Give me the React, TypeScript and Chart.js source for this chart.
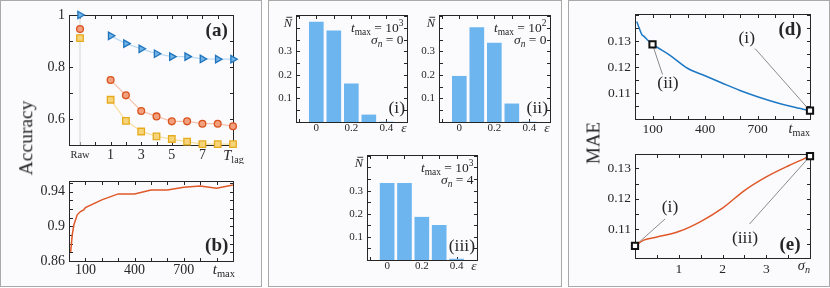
import React, { useEffect, useRef } from 'react';
import { Chart, registerables } from 'chart.js';

Chart.register(...registerables);

const FONT = '"Liberation Serif", "Times New Roman", serif';
const INK = '#262626';
const BLUE = '#1c78c4';
const ORANGE = '#df5726';
const BAR = '#6db5ee';

// ---------- (a) accuracy vs lag ----------
const RAW_POS = -1;
const LAG_STEPS = [1, 2, 3, 4, 5, 6, 7, 8, 9];
const ACC_TRIANGLE = [0.92, 0.89, 0.87, 0.851, 0.84, 0.84, 0.831, 0.83, 0.83];
const ACC_CIRCLE = [0.75, 0.691, 0.631, 0.61, 0.591, 0.591, 0.582, 0.582, 0.572];
const ACC_SQUARE = [0.674, 0.593, 0.552, 0.533, 0.523, 0.513, 0.503, 0.503, 0.503];
const ACC_RAW = [1.0, 0.946, 0.911];
const LAG_TICKS = [-1, 1, 3, 5, 7];
const LAG_TICK_LABELS = ['Raw', '1', '3', '5', '7'];
const ACC_A_TICKS = [0.6, 0.8, 1];
const ACC_A_TICK_LABELS = ['0.6', '0.8', '1'];

// ---------- (b) accuracy vs t_max ----------
const TMAX_B = [10, 20, 30, 50, 70, 90, 100, 200, 300, 400, 500, 600, 700, 800, 900, 1000];
const ACC_B = [0.8706, 0.8905, 0.902, 0.9134, 0.9172, 0.9192, 0.9218, 0.9307, 0.9376, 0.9376, 0.9422, 0.9422, 0.9453, 0.9468, 0.9441, 0.9479];
const TMAX_TICKS = [100, 400, 700];
const TMAX_TICK_LABELS = ['100', '400', '700'];
const ACC_B_TICKS = [0.86, 0.9, 0.94];
const ACC_B_TICK_LABELS = ['0.86', '0.9', '0.94'];

// ---------- (c) error histograms ----------
const EPS_BINS = [0, 0.1, 0.2, 0.3, 0.4];
const NBAR_I = [0.424, 0.387, 0.162, 0.03, 0];
const NBAR_II = [0.194, 0.401, 0.335, 0.077, 0];
const NBAR_III = [0.332, 0.332, 0.185, 0.15, 0.004];
const HIST_TMAX_EXP = ['3', '2', '3'];
const HIST_SIGMA = ['0', '0', '4'];
const EPS_TICKS = [0, 0.2, 0.4];
const EPS_TICK_LABELS = ['0', '0.2', '0.4'];
const NBAR_TICKS = [0.1, 0.2, 0.3];
const NBAR_TICK_LABELS = ['0.1', '0.2', '0.3'];

// ---------- (d) MAE vs t_max ----------
const TMAX_D = [10, 20, 30, 40, 50, 70, 100, 200, 300, 400, 500, 600, 700, 800, 900, 1000];
const MAE_D = [0.1376, 0.1358, 0.134, 0.1325, 0.132, 0.1306, 0.1289, 0.1246, 0.1196, 0.1167, 0.1138, 0.111, 0.1086, 0.1065, 0.1047, 0.1032];
const MARK_D_TMAX = [100, 1000];
const MARK_D_MAE = [0.1288, 0.1032];

// ---------- (e) MAE vs sigma_n ----------
const SIGMA = [0, 0.2, 0.5, 1, 1.5, 2, 2.5, 3, 3.5, 4];
const MAE_E = [0.1045, 0.1064, 0.1074, 0.1092, 0.1125, 0.1169, 0.1227, 0.1272, 0.1308, 0.134];
const MARK_E_SIGMA = [0, 4];
const MARK_E_MAE = [0.1045, 0.134];
const MAE_TICKS = [0.11, 0.12, 0.13];
const MAE_TICK_LABELS = ['0.11', '0.12', '0.13'];
const SIGMA_TICKS = [1, 2, 3];
const SIGMA_TICK_LABELS = ['1', '2', '3'];

// ---------- helpers ----------
type Box = { left: number; top: number; width: number; height: number };
type Area = { l: number; t: number; r: number; b: number };
type Part = { t: string; s: number; i?: boolean; b?: boolean; dy?: number; bar?: boolean };
type TextItem = { x: number; y: number; parts: Part[]; align?: 'left' | 'center' | 'right' };
type Leader = { at: [number, number]; to: [number, number] };
type Overlay = { xMinor: number[]; yMinor: number[]; texts: TextItem[]; leaders?: Leader[] };

const steps = (a: number, b: number, s: number) => {
  const out: number[] = [];
  for (let k = 0; a + k * s <= b + 1e-9; k++) out.push(+(a + k * s).toFixed(6));
  return out;
};

const it = (t: string, s: number, dy = 0): Part => ({ t, s, i: true, dy });
const rm = (t: string, s: number, dy = 0): Part => ({ t, s, dy });
const bold = (t: string, s: number): Part => ({ t, s, b: true });
const subI = (base: string, sub: string, s: number, italicSub = false): Part[] => [
  it(base, s),
  { t: sub, s: s * 0.7, i: italicSub, dy: s * 0.24 },
];
const tmaxEq = (exp: string, s: number): Part[] => [
  ...subI('t', 'max', s),
  rm(' = 10', s),
  rm(exp, s * 0.7, -s * 0.42),
];
const sigmaEq = (v: string, s: number): Part[] => [...subI('σ', 'n', s, true), rm(' = ' + v, s)];
const nbar = (s: number): Part[] => [{ t: 'N', s, i: true, bar: true }];

function fontOf(p: Part) {
  return `${p.i ? 'italic ' : ''}${p.b ? 'bold ' : ''}${p.s}px ${FONT}`;
}

function drawRich(ctx: CanvasRenderingContext2D, item: TextItem, ox: number, oy: number) {
  const ws: number[] = [];
  let w = 0;
  for (const p of item.parts) {
    ctx.font = fontOf(p);
    const m = ctx.measureText(p.t).width;
    ws.push(m);
    w += m;
  }
  const align = item.align || 'center';
  let x = item.x - ox - (align === 'right' ? w : align === 'left' ? 0 : w / 2);
  const y = item.y - oy;
  ctx.fillStyle = INK;
  ctx.textAlign = 'left';
  ctx.textBaseline = 'alphabetic';
  item.parts.forEach((p, k) => {
    ctx.font = fontOf(p);
    ctx.fillText(p.t, x, y + (p.dy || 0));
    if (p.bar) ctx.fillRect(x + ws[k] * 0.3, y - p.s * 0.84, ws[k] * 0.7, Math.max(0.9, p.s * 0.06));
    x += ws[k];
  });
}

function overlay(box: Box, ov: Overlay) {
  return {
    id: 'overlay',
    beforeDatasetsDraw(chart: any) {
      const { ctx, chartArea: a, scales } = chart;
      const L = Math.round(a.left) + 0.5;
      const R = Math.round(a.right) + 0.5;
      const T = Math.round(a.top) + 0.5;
      const B = Math.round(a.bottom) + 0.5;
      const len = 3.5;
      ctx.save();
      ctx.strokeStyle = INK;
      ctx.lineWidth = 1;
      ctx.strokeRect(L, T, R - L, B - T);
      ctx.beginPath();
      for (const v of ov.xMinor) {
        const p = Math.round(scales.x.getPixelForValue(v)) + 0.5;
        ctx.moveTo(p, B); ctx.lineTo(p, B - len);
        ctx.moveTo(p, T); ctx.lineTo(p, T + len);
      }
      for (const v of ov.yMinor) {
        const p = Math.round(scales.y.getPixelForValue(v)) + 0.5;
        ctx.moveTo(L, p); ctx.lineTo(L + len, p);
        ctx.moveTo(R, p); ctx.lineTo(R - len, p);
      }
      ctx.stroke();
      if (ov.leaders) {
        ctx.strokeStyle = '#6e6e6e';
        ctx.lineWidth = 0.8;
        for (const ld of ov.leaders) {
          ctx.beginPath();
          ctx.moveTo(scales.x.getPixelForValue(ld.at[0]), scales.y.getPixelForValue(ld.at[1]));
          ctx.lineTo(ld.to[0] - box.left, ld.to[1] - box.top);
          ctx.stroke();
        }
      }
      ctx.restore();
    },
    afterDraw(chart: any) {
      const ctx = chart.ctx;
      ctx.save();
      for (const t of ov.texts) drawRich(ctx, t, box.left, box.top);
      ctx.restore();
    },
  };
}

function axis(min: number, max: number, ticks: number[], labels: string[], size: number | ((c: any) => any), padding: number) {
  return {
    type: 'linear',
    min,
    max,
    offset: false,
    grid: { display: false, drawTicks: false },
    border: { display: false },
    afterBuildTicks: (s: any) => {
      s.ticks = ticks.map((v) => ({ value: v }));
    },
    ticks: {
      autoSkip: false,
      maxRotation: 0,
      minRotation: 0,
      padding,
      color: INK,
      font: typeof size === 'function' ? size : { family: FONT, size },
      callback: (v: number) => {
        const i = ticks.indexOf(v);
        return i >= 0 ? labels[i] : '';
      },
    },
  };
}

type Spec = { box: Box; area: Area; type: string; datasets: any[]; x: any; y: any; ov: Overlay };

function buildConfig(spec: Spec): any {
  const { box, area } = spec;
  return {
    type: spec.type,
    data: { datasets: spec.datasets },
    options: {
      responsive: false,
      maintainAspectRatio: false,
      animation: false,
      events: [],
      layout: { padding: { left: 0, bottom: 0, top: area.t - box.top, right: box.left + box.width - area.r } },
      plugins: { legend: { display: false }, tooltip: { enabled: false }, title: { display: false } },
      scales: {
        x: { ...spec.x, afterFit: (s: any) => { s.height = box.top + box.height - area.b; } },
        y: { ...spec.y, afterFit: (s: any) => { s.width = area.l - box.left; } },
      },
    },
    plugins: [overlay(box, spec.ov)],
  };
}

const pts = (xs: number[], ys: number[]) => xs.map((x, i) => ({ x, y: ys[i] }));

const TRI = { pointStyle: 'triangle', pointRotation: 90, pointRadius: 4.3, pointBorderWidth: 1.3, pointBorderColor: '#1f74bd', pointBackgroundColor: '#6fb3e6' };
const CIR = { pointStyle: 'circle', pointRadius: 3.4, pointBorderWidth: 1.3, pointBorderColor: '#d9531e', pointBackgroundColor: '#f2a07e' };
const SQR = { pointStyle: 'rect', pointRadius: 4.6, pointBorderWidth: 1.3, pointBorderColor: '#e5ab1f', pointBackgroundColor: '#f7d47a' };
const MARK = { pointStyle: 'rect', pointRadius: 4.4, pointBorderWidth: 2, pointBorderColor: '#111', pointBackgroundColor: '#fff', showLine: false, clip: false };

const A_Y = [0.5, 1];

const SPEC_A: Spec = {
  type: 'line',
  box: { left: 30, top: 2, width: 228, height: 162 },
  area: { l: 69, t: 15, r: 233, b: 145 },
  datasets: [
    { data: pts(LAG_STEPS, ACC_TRIANGLE), borderColor: '#bcdaf2', borderWidth: 1.3, ...TRI, clip: false },
    { data: pts(LAG_STEPS, ACC_CIRCLE), borderColor: '#f5c4ae', borderWidth: 1.3, ...CIR, clip: false },
    { data: pts(LAG_STEPS, ACC_SQUARE), borderColor: '#f7e0a2', borderWidth: 1.3, ...SQR, clip: false },
    { data: [{ x: RAW_POS, y: ACC_RAW[0] }], showLine: false, ...TRI, clip: false },
    { data: [{ x: RAW_POS, y: ACC_RAW[1] }], showLine: false, ...CIR, clip: false },
    { data: [{ x: RAW_POS, y: ACC_RAW[2] }], showLine: false, ...SQR, clip: false },
    { data: [{ x: RAW_POS, y: A_Y[0] }, { x: RAW_POS, y: A_Y[1] }], borderColor: '#dcdcdc', borderWidth: 1.2, pointRadius: 0 },
  ],
  x: axis(-1.72, 9, LAG_TICKS, LAG_TICK_LABELS, (c: any) =>
    c.tick && c.tick.value === RAW_POS ? { family: FONT, size: 10.5, lineHeight: 1.55 } : { family: FONT, size: 14 }, 2),
  y: axis(A_Y[0], A_Y[1], ACC_A_TICKS, ACC_A_TICK_LABELS, 14, 4),
  ov: {
    xMinor: steps(-1, 8, 1),
    yMinor: steps(0.6, 0.9, 0.1),
    texts: [
      { x: 216.7, y: 36, parts: [bold('(a)', 19)] },
      { x: 233.5, y: 159.5, parts: subI('T', 'lag', 14.5) },
    ],
  },
};

const SPEC_B: Spec = {
  type: 'line',
  box: { left: 30, top: 168, width: 228, height: 116 },
  area: { l: 69, t: 181, r: 233, b: 261 },
  datasets: [{ data: pts(TMAX_B, ACC_B), borderColor: ORANGE, borderWidth: 1.5, pointRadius: 0, tension: 0 }],
  x: axis(0, 1000, TMAX_TICKS, TMAX_TICK_LABELS, 14, 1),
  y: axis(0.86, 0.9525, ACC_B_TICKS, ACC_B_TICK_LABELS, 14, 4),
  ov: {
    xMinor: steps(100, 900, 100),
    yMinor: steps(0.87, 0.95, 0.01),
    texts: [
      { x: 216.7, y: 250.5, parts: [bold('(b)', 19)] },
      { x: 235, y: 273.5, parts: subI('t', 'max', 15), align: 'right' },
    ],
  },
};

function histSpec(k: number, values: number[], box: Box, area: Area, label: string): Spec {
  const dx = area.l;
  const r = area.r;
  const t = area.t;
  const b = area.b;
  return {
    type: 'bar',
    box,
    area,
    datasets: [{ data: pts(EPS_BINS, values), backgroundColor: BAR, borderWidth: 0, barThickness: 14 }],
    x: axis(-0.116, 0.518, EPS_TICKS, EPS_TICK_LABELS, 11, 0),
    y: axis(0, 0.454, NBAR_TICKS, NBAR_TICK_LABELS, 11, 4),
    ov: {
      xMinor: steps(-0.1, 0.4, 0.1),
      yMinor: steps(0.05, 0.45, 0.05),
      texts: [
        { x: dx - 8, y: t + 12.3, parts: nbar(12.5) },
        { x: r - 3.5, y: t + 16.5, parts: tmaxEq(HIST_TMAX_EXP[k], 13.5), align: 'right' },
        { x: r - 3.5, y: t + 29, parts: sigmaEq(HIST_SIGMA[k], 13.5), align: 'right' },
        { x: r - 2, y: b - 9, parts: [rm(label, 17.5)], align: 'right' },
        { x: r - 3, y: b + 9.8, parts: [it('ε', 13.5)] },
      ],
    },
  };
}

const SPEC_CI = histSpec(0, NBAR_I, { left: 270, top: 3, width: 148, height: 136 }, { l: 296, t: 15, r: 407, b: 122 }, '(i)');
const SPEC_CII = histSpec(1, NBAR_II, { left: 412, top: 3, width: 148, height: 136 }, { l: 439, t: 15, r: 550, b: 122 }, '(ii)');
const SPEC_CIII = histSpec(2, NBAR_III, { left: 340, top: 143, width: 150, height: 136 }, { l: 367, t: 155, r: 477, b: 260 }, '(iii)');
SPEC_CIII.ov.texts.push({ x: 286, y: 272, parts: [bold('(c)', 19)] });

const SPEC_D: Spec = {
  type: 'line',
  box: { left: 598, top: 2, width: 228, height: 136 },
  area: { l: 635, t: 14, r: 810, b: 119 },
  datasets: [
    { data: pts(MARK_D_TMAX, MARK_D_MAE), ...MARK },
    { data: pts(TMAX_D, MAE_D), borderColor: BLUE, borderWidth: 1.5, pointRadius: 0, cubicInterpolationMode: 'monotone' },
  ],
  x: axis(0, 1000, TMAX_TICKS, TMAX_TICK_LABELS, 13.5, 2),
  y: axis(0.1, 0.1405, MAE_TICKS, MAE_TICK_LABELS, 13.5, 4),
  ov: {
    xMinor: steps(100, 900, 100),
    yMinor: steps(0.105, 0.14, 0.005),
    leaders: [
      { at: [MARK_D_TMAX[0], MARK_D_MAE[0]], to: [662.5, 74.5] },
      { at: [MARK_D_TMAX[1], MARK_D_MAE[1]], to: [755, 48.5] },
    ],
    texts: [
      { x: 790, y: 35, parts: [bold('(d)', 19)] },
      { x: 746.7, y: 43, parts: [rm('(i)', 17.5)] },
      { x: 668, y: 87.5, parts: [rm('(ii)', 17.5)] },
      { x: 810, y: 132.5, parts: subI('t', 'max', 14.5), align: 'right' },
    ],
  },
};

const SPEC_E: Spec = {
  type: 'line',
  box: { left: 598, top: 142, width: 228, height: 136 },
  area: { l: 635, t: 154, r: 810, b: 258 },
  datasets: [
    { data: pts(MARK_E_SIGMA, MARK_E_MAE), ...MARK },
    { data: pts(SIGMA, MAE_E), borderColor: ORANGE, borderWidth: 1.5, pointRadius: 0, cubicInterpolationMode: 'monotone' },
  ],
  x: axis(0, 4, SIGMA_TICKS, SIGMA_TICK_LABELS, 13.5, 3),
  y: axis(0.1005, 0.1347, MAE_TICKS, MAE_TICK_LABELS, 13.5, 4),
  ov: {
    xMinor: steps(0.5, 3.5, 0.5),
    yMinor: steps(0.105, 0.13, 0.005),
    leaders: [
      { at: [MARK_E_SIGMA[0], MARK_E_MAE[0]], to: [665, 219] },
      { at: [MARK_E_SIGMA[1], MARK_E_MAE[1]], to: [749.5, 224] },
    ],
    texts: [
      { x: 790, y: 250, parts: [bold('(e)', 19)] },
      { x: 670, y: 211.5, parts: [rm('(i)', 17.5)] },
      { x: 745, y: 243, parts: [rm('(iii)', 17.5)] },
      { x: 810, y: 269.5, parts: subI('σ', 'n', 14.5, true), align: 'right' },
    ],
  },
};

const SPECS = [SPEC_A, SPEC_B, SPEC_CI, SPEC_CII, SPEC_CIII, SPEC_D, SPEC_E];

function ChartCanvas({ spec }: { spec: Spec }) {
  const ref = useRef<HTMLCanvasElement>(null);
  useEffect(() => {
    const chart = new Chart(ref.current as HTMLCanvasElement, buildConfig(spec));
    return () => chart.destroy();
  }, [spec]);
  const { left, top, width, height } = spec.box;
  return (
    <canvas
      ref={ref}
      width={width}
      height={height}
      style={{ position: 'absolute', left, top, width, height }}
    />
  );
}

function Panel({ left, width }: { left: number; width: number }) {
  return (
    <div
      style={{
        position: 'absolute',
        left,
        top: 0,
        width,
        height: 287,
        boxSizing: 'border-box',
        border: '1px solid #a9a9a9',
        background: '#fbfbfe',
      }}
    />
  );
}

function VLabel({ text, x, y, size }: { text: string; x: number; y: number; size: number }) {
  return (
    <div
      style={{
        position: 'absolute',
        left: x,
        top: y,
        transform: 'translate(-50%, -50%) rotate(-90deg)',
        fontFamily: FONT,
        fontSize: size,
        lineHeight: 1,
        color: INK,
        whiteSpace: 'nowrap',
      }}
    >
      {text}
    </div>
  );
}

export default function App() {
  return (
    <div style={{ position: 'fixed', left: 0, top: 0, width: 830, height: 288, background: '#fff', overflow: 'hidden' }}>
      <Panel left={0} width={262} />
      <Panel left={268} width={294} />
      <Panel left={568} width={262} />
      {SPECS.map((s, i) => (
        <ChartCanvas key={i} spec={s} />
      ))}
      <VLabel text="Accuracy" x={25.5} y={138} size={19.5} />
      <VLabel text="MAE" x={593} y={142.5} size={19} />
    </div>
  );
}
